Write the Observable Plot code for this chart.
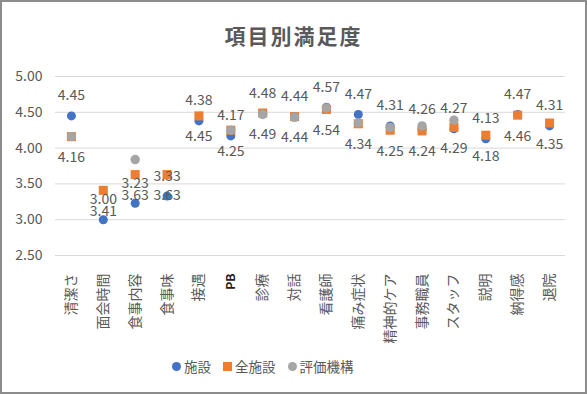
<!DOCTYPE html>
<html>
<head>
<meta charset="utf-8">
<script src="https://cdn.jsdelivr.net/npm/d3@7"></script>
<script src="https://cdn.jsdelivr.net/npm/@observablehq/plot@0.6"></script>
<style>
  html, body { margin: 0; padding: 0; background: #fff; }
  #wrap { position: relative; width: 587px; height: 394px; overflow: hidden; background: #fff;
          font-family: "Noto Sans CJK JP", "Noto Sans", sans-serif; color: #595959; }
  #frame { position: absolute; left: 0; top: 0; width: 587px; height: 394px; box-sizing: border-box;
           border: 2px solid #8c8c8c; pointer-events: none; }
  #title { position: absolute; left: 0; width: 587px; top: 22px; text-align: center;
           font-size: 21px; font-weight: bold; letter-spacing: 2px; line-height: 26px; }
  #chart { position: absolute; left: 0; top: 60px; }
  #legend { position: absolute; left: 172px; top: 356px; display: flex; align-items: center;
            font-size: 13.5px; line-height: 20px; white-space: nowrap; }
  .item { display: flex; align-items: center; margin-right: 12px; }
  .sw { display: inline-block; width: 9px; height: 9px; margin-right: 3px; }
</style>
</head>
<body>
<div id="wrap">
  <div id="title">項目別満足度</div>
  <div id="chart"></div>
  <div id="legend"></div>
  <div id="frame"></div>
</div>
<script>
const categories = ["清潔さ","面会時間","食事内容","食事味","接遇","PB","診療","対話","看護師","痛み症状","精神的ケア","事務職員","スタッフ","説明","納得感","退院"];
const facility      = [4.45, 3.00, 3.23, 3.33, 4.38, 4.17, 4.48, 4.44, 4.57, 4.47, 4.31, 4.26, 4.27, 4.13, 4.47, 4.31];
const allFacilities = [4.16, 3.41, 3.63, 3.63, 4.45, 4.25, 4.49, 4.44, 4.54, 4.34, 4.25, 4.24, 4.29, 4.18, 4.46, 4.35];
const evaluator     = [4.16, null, 3.84, null, null, 4.25, 4.47, 4.43, 4.56, 4.35, 4.29, 4.31, 4.39, null, null, null];
const seriesNames = ["施設","全施設","評価機構"];
const seriesColors = ["#4472C4","#ED7D31","#A5A5A5"];
const yTicks = [2.5, 3.0, 3.5, 4.0, 4.5, 5.0];

const rows = categories.map((c, i) => ({cat: c, a: facility[i], b: allFacilities[i], c: evaluator[i]}));

const plot = Plot.plot({
  width: 587,
  height: 290,
  marginLeft: 55,
  marginRight: 22,
  marginTop: 16,
  marginBottom: 95,
  style: {fontFamily: "'Noto Sans CJK JP', 'Noto Sans', sans-serif", fontSize: "14px", color: "#595959", background: "transparent"},
  x: {type: "band", domain: categories, padding: 0, round: false, label: null},
  y: {domain: [2.5, 5], label: null},
  marks: [
    Plot.gridY(yTicks, {stroke: "#d9d9d9", strokeOpacity: 1, strokeWidth: 1}),
    Plot.axisY({ticks: yTicks, tickSize: 0, tickPadding: 13, tickFormat: d => d.toFixed(2), fontSize: 14, label: null}),
    Plot.axisX({tickSize: 0, tickRotate: -90, tickPadding: 18, fontSize: 14, label: null}),
    Plot.dot(rows, {x: "cat", y: "a", r: 4.5, fill: seriesColors[0]}),
    Plot.dot(rows, {x: "cat", y: "b", r: 5.1, symbol: "square", fill: seriesColors[1]}),
    Plot.dot(rows, {x: "cat", y: "c", r: 4.7, fill: seriesColors[2]}),
    Plot.text(rows, {x: "cat", y: "a", text: d => d.a.toFixed(2), dy: -20, fontSize: 14, fill: "#595959"}),
    Plot.text(rows, {x: "cat", y: "b", text: d => d.b.toFixed(2), dy: 21, fontSize: 14, fill: "#595959"})
  ]
});
document.getElementById("chart").appendChild(plot);

// PB label is bold and dark in the reference
plot.querySelectorAll('g[aria-label="x-axis tick label"] text').forEach(t => {
  if (t.textContent === "PB") { t.setAttribute("font-weight", "bold"); t.setAttribute("fill", "#222"); t.setAttribute("font-size", "12"); }
});

const legend = document.getElementById("legend");
seriesNames.forEach((name, i) => {
  const item = document.createElement("span");
  item.className = "item";
  const sw = document.createElement("span");
  sw.className = "sw";
  sw.style.background = seriesColors[i];
  sw.style.borderRadius = i === 1 ? "0" : "50%";
  item.appendChild(sw);
  item.appendChild(document.createTextNode(name));
  legend.appendChild(item);
});
</script>
</body>
</html>
